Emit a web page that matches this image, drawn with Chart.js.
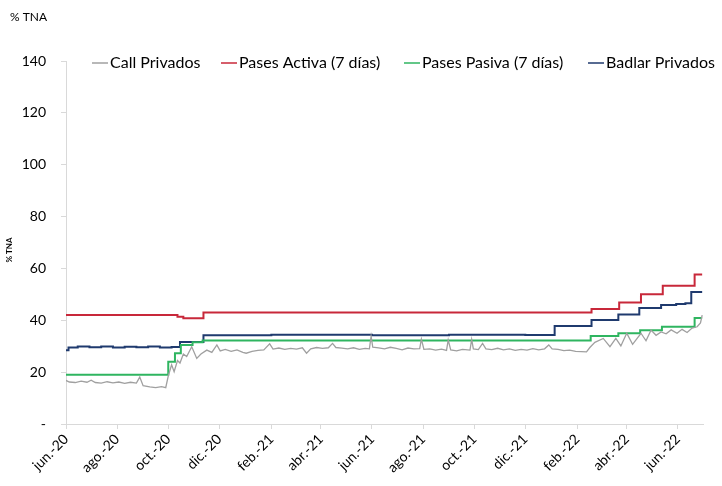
<!DOCTYPE html>
<html>
<head>
<meta charset="utf-8">
<script src="https://cdn.jsdelivr.net/npm/chart.js@4.4.0/dist/chart.umd.min.js"></script>
<style>
  body { margin: 0; background: #fff; }
  #wrap { width: 722px; height: 486px; }
</style>
</head>
<body>
<div id="wrap"><canvas id="myChart" width="722" height="486"></canvas></div>
<script>
// series labels (legend order)
const seriesLabels = ['Call Privados', 'Pases Activa (7 días)', 'Pases Pasiva (7 días)', 'Badlar Privados'];

// x axis ticks every two months
const xTickDates = ['2020-06-01', '2020-08-01', '2020-10-01', '2020-12-01', '2021-02-01', '2021-04-01', '2021-06-01',
  '2021-08-01', '2021-10-01', '2021-12-01', '2022-02-01', '2022-04-01', '2022-06-01'];
const xTickLabels = ['jun.-20', 'ago.-20', 'oct.-20', 'dic.-20', 'feb.-21', 'abr.-21', 'jun.-21',
  'ago.-21', 'oct.-21', 'dic.-21', 'feb.-22', 'abr.-22', 'jun.-22'];
const xStart = '2020-06-01';
const xEnd = '2022-07-01';

// Call Privados
const callDates = [
  '2020-06-01','2020-06-05','2020-06-12','2020-06-19','2020-06-26','2020-07-01','2020-07-06','2020-07-13','2020-07-20','2020-07-27',
  '2020-08-03','2020-08-10','2020-08-17','2020-08-24','2020-08-28','2020-09-01','2020-09-09','2020-09-16','2020-09-23','2020-09-28',
  '2020-10-01','2020-10-05','2020-10-08','2020-10-12','2020-10-15','2020-10-19','2020-10-23','2020-10-29','2020-11-04','2020-11-09',
  '2020-11-16','2020-11-22','2020-11-28','2020-12-02','2020-12-08','2020-12-15','2020-12-22','2020-12-29','2021-01-02','2021-01-09',
  '2021-01-16','2021-01-23','2021-01-30','2021-02-03','2021-02-10','2021-02-17','2021-02-24','2021-03-03','2021-03-10','2021-03-15',
  '2021-03-20','2021-03-27','2021-04-03','2021-04-10','2021-04-15','2021-04-19','2021-04-26','2021-05-03','2021-05-10','2021-05-17',
  '2021-05-24','2021-05-29','2021-05-31','2021-06-02','2021-06-09','2021-06-16','2021-06-23','2021-06-30','2021-07-07','2021-07-14',
  '2021-07-21','2021-07-28','2021-07-30','2021-08-02','2021-08-09','2021-08-16','2021-08-23','2021-08-29','2021-08-31','2021-09-03',
  '2021-09-10','2021-09-17','2021-09-26','2021-09-28','2021-09-30','2021-10-06','2021-10-11','2021-10-15','2021-10-22','2021-10-29',
  '2021-11-05','2021-11-12','2021-11-19','2021-11-26','2021-12-03','2021-12-10','2021-12-17','2021-12-24','2021-12-29','2022-01-02',
  '2022-01-09','2022-01-16','2022-01-23','2022-01-30','2022-02-06','2022-02-12','2022-02-16','2022-02-22','2022-03-04','2022-03-12',
  '2022-03-19','2022-03-25','2022-04-01','2022-04-08','2022-04-18','2022-04-24','2022-04-30','2022-05-06','2022-05-12','2022-05-18',
  '2022-05-24','2022-05-31','2022-06-06','2022-06-12','2022-06-18','2022-06-24','2022-06-28','2022-06-30'
];
const callValues = [
  16.8, 16.2, 16.0, 16.5, 16.1, 16.9, 16.0, 15.8, 16.3, 15.9,
  16.2, 15.7, 16.1, 15.8, 18.1, 14.8, 14.3, 14.0, 14.4, 14.0,
  18.5, 22.8, 20.2, 24.5, 23.5, 27.0, 26.0, 29.8, 25.3, 27.0,
  28.5, 27.6, 30.5, 28.2, 28.8, 28.0, 28.6, 27.6, 27.3, 28.0,
  28.4, 28.6, 30.9, 28.9, 29.3, 28.8, 29.2, 28.9, 29.4, 27.3,
  29.0, 29.5, 29.2, 29.4, 31.1, 29.5, 29.3, 29.0, 29.4, 28.8,
  29.2, 29.0, 33.9, 29.6, 29.4, 29.0, 29.6, 29.2, 28.6, 29.3,
  29.0, 29.1, 32.7, 28.8, 29.0, 28.5, 28.9, 28.4, 32.4, 28.6,
  28.2, 28.8, 28.5, 32.6, 29.0, 28.7, 31.1, 29.0, 28.7, 29.2,
  28.6, 29.0, 28.4, 28.8, 28.5, 29.1, 28.6, 29.0, 30.5, 29.0,
  28.8, 28.3, 28.5, 28.0, 27.9, 27.8, 29.5, 31.5, 33.0, 29.8,
  33.0, 30.1, 35.0, 30.7, 35.0, 32.1, 36.2, 34.2, 35.5, 34.8,
  36.3, 35.0, 36.5, 35.3, 37.0, 37.5, 39.0, 42.0
];

// Pases Activa (7 dias) - value holds from each date
const activaDates = ['2020-06-01','2020-10-12','2020-10-19','2020-11-12','2022-02-18','2022-03-23','2022-04-18','2022-05-14','2022-06-21','2022-06-30'];
const activaValues = [42.0, 41.4, 40.8, 43.0, 44.4, 46.9, 50.0, 53.3, 57.7, 57.7];

// Pases Pasiva (7 dias)
const pasivaDates = ['2020-06-01','2020-10-01','2020-10-09','2020-10-16','2020-10-30','2020-11-11','2022-02-17','2022-03-22','2022-04-17','2022-05-13','2022-06-21','2022-06-30'];
const pasivaValues = [19.0, 24.0, 27.3, 30.5, 31.5, 32.2, 33.9, 35.0, 36.2, 37.5, 40.9, 40.9];

// Badlar Privados
const badlarDates = ['2020-06-01','2020-06-04','2020-06-15','2020-06-29','2020-07-13','2020-07-27','2020-08-10','2020-08-24','2020-09-07','2020-09-21',
  '2020-10-05','2020-10-15','2020-11-12','2021-02-01','2021-06-01','2021-09-01','2021-12-01','2022-01-05','2022-02-18','2022-03-22',
  '2022-04-16','2022-05-12','2022-05-30','2022-06-10','2022-06-17','2022-06-30'];
const badlarValues = [28.4, 29.5, 29.9, 29.6, 29.9, 29.5, 29.8, 29.6, 29.9, 29.5,
  29.7, 31.6, 34.2, 34.4, 34.2, 34.4, 34.3, 37.8, 40.1, 42.2,
  44.7, 45.9, 46.3, 46.6, 50.9, 50.9];

// days since start
const toDay = (s) => {
  const p = s.split('-').map(Number);
  const o = xStart.split('-').map(Number);
  return (Date.UTC(p[0], p[1] - 1, p[2]) - Date.UTC(o[0], o[1] - 1, o[2])) / 86400000;
};
const toPoints = (dates, values) => dates.map((d, i) => ({ x: toDay(d), y: values[i] }));
const xTickDays = xTickDates.map(toDay);

const FONT = 'Lato, "Open Sans", sans-serif';

// legend + small texts drawn by hand (legend sits inside the plot in the original)
const legendTextX = [110, 239, 422, 606];
const extras = {
  id: 'extras',
  afterDraw(chart) {
    const ctx = chart.ctx;
    ctx.save();
    ctx.fillStyle = '#000';
    ctx.font = '12px ' + FONT;
    ctx.textBaseline = 'middle';
    ctx.textAlign = 'left';
    ctx.fillText('% TNA', 10, 17);

    // rotated axis title
    ctx.save();
    ctx.translate(9, 250);
    ctx.rotate(-Math.PI / 2);
    ctx.font = 'bold 8px ' + FONT;
    ctx.textAlign = 'center';
    ctx.fillText('% TNA', 0, 0);
    ctx.restore();

    // legend
    ctx.font = '16px ' + FONT;
    const y = 63;
    chart.data.datasets.forEach((ds, i) => {
      const x = legendTextX[i];
      ctx.strokeStyle = ds.borderColor;
      ctx.lineWidth = 1.5;
      ctx.beginPath();
      ctx.moveTo(x - 18, y);
      ctx.lineTo(x - 2, y);
      ctx.stroke();
      ctx.fillStyle = '#000';
      ctx.fillText(ds.label, x, y);
    });
    ctx.restore();
  }
};

const axisColor = '#d9d9d9';

new Chart(document.getElementById('myChart').getContext('2d'), {
  type: 'line',
  data: {
    datasets: [
      {
        label: seriesLabels[0],
        data: toPoints(callDates, callValues),
        borderColor: '#a0a0a0',
        borderWidth: 1.3,
      },
      {
        label: seriesLabels[1],
        data: toPoints(activaDates, activaValues),
        borderColor: '#c8283a',
        borderWidth: 2,
        stepped: true,
      },
      {
        label: seriesLabels[2],
        data: toPoints(pasivaDates, pasivaValues),
        borderColor: '#2fb560',
        borderWidth: 2,
        stepped: true,
      },
      {
        label: seriesLabels[3],
        data: toPoints(badlarDates, badlarValues),
        borderColor: '#1f3a6e',
        borderWidth: 2,
        stepped: true,
      },
    ],
  },
  options: {
    responsive: false,
    animation: false,
    elements: { point: { radius: 0 }, line: { tension: 0, fill: false } },
    layout: { padding: { top: 61, right: 19, left: 0, bottom: 0 } },
    plugins: { legend: { display: false }, tooltip: { enabled: false } },
    scales: {
      x: {
        type: 'linear',
        min: 0,
        max: toDay(xEnd),
        afterBuildTicks: (axis) => { axis.ticks = xTickDays.map(v => ({ value: v })); },
        afterFit: (s) => { s.height = 62; },
        grid: { display: true, drawOnChartArea: false, drawTicks: true, tickLength: 5, color: axisColor },
        border: { display: true, color: axisColor },
        ticks: {
          autoSkip: false,
          maxRotation: 45,
          minRotation: 45,
          padding: 2,
          color: '#000',
          font: { family: FONT, size: 14 },
          callback: (v) => {
            const i = xTickDays.indexOf(v);
            return i >= 0 ? xTickLabels[i] : '';
          },
        },
      },
      y: {
        min: 0,
        max: 140,
        afterFit: (s) => { s.width = 66; },
        grid: { display: true, drawOnChartArea: false, drawTicks: true, tickLength: 5, color: axisColor },
        border: { display: true, color: axisColor },
        ticks: {
          stepSize: 20,
          padding: 15,
          color: '#000',
          font: { family: FONT, size: 14 },
          callback: (v) => (v === 0 ? '-' : v),
        },
      },
    },
  },
  plugins: [extras],
});
</script>
</body>
</html>
